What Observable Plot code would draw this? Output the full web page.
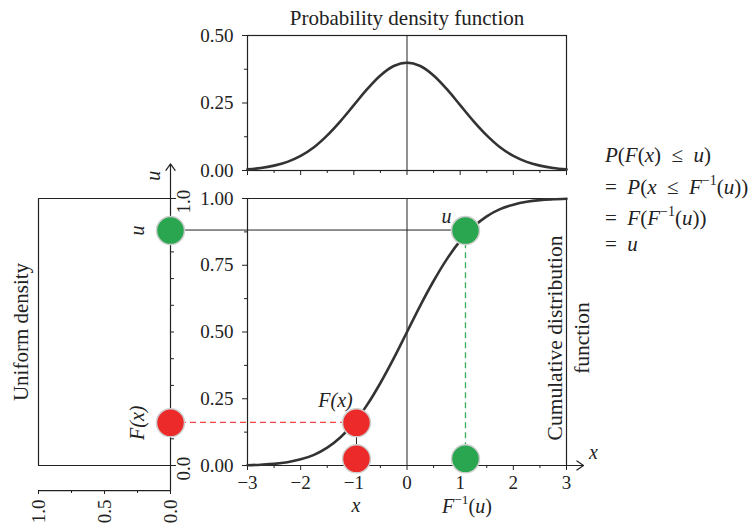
<!DOCTYPE html>
<html><head><meta charset="utf-8">
<script src="https://cdn.jsdelivr.net/npm/d3@7"></script>
<script src="https://cdn.jsdelivr.net/npm/@observablehq/plot@0.6"></script>
<style>
body{margin:0;background:#fff;}
#wrap{position:relative;width:750px;height:529px;overflow:hidden;background:#fff;}
#wrap > svg{position:absolute;left:0;top:0;}
</style></head><body><div id="wrap"></div>
<script>
// ---------- data ----------
const xs    = [-3,-2.75,-2.5,-2.25,-2,-1.75,-1.5,-1.25,-1,-0.75,-0.5,-0.25,0,0.25,0.5,0.75,1,1.25,1.5,1.75,2,2.25,2.5,2.75,3];
const pdfY  = [0.004,0.009,0.018,0.032,0.054,0.086,0.130,0.183,0.242,0.301,0.352,0.387,0.399,0.387,0.352,0.301,0.242,0.183,0.130,0.086,0.054,0.032,0.018,0.009,0.004];
const cdfY  = [0.001,0.003,0.006,0.012,0.023,0.040,0.067,0.106,0.159,0.227,0.309,0.401,0.500,0.599,0.691,0.773,0.841,0.894,0.933,0.960,0.977,0.988,0.994,0.997,0.999];
const uniformDensity = [0,1,1,0];
const uniformU       = [0,0,1,1];
const sampleX     = [-0.95, 1.1];
const sampleU     = [0.16, 0.88];
const sampleNames = ["F(x)", "u"];
const baseU = 0.025;
const xTicks      = [-3,-2,-1,0,1,2,3];
const xMinorTicks = [-2.5,-1.5,-0.5,0.5,1.5,2.5];
const pdfTicks    = [0,0.25,0.5];
const pdfMinor    = [0.125,0.375];
const cdfTicks    = [0,0.25,0.5,0.75,1];
const cdfMinor    = [0.125,0.375,0.625,0.875];
const uTicks      = [0,1];
const uMinor      = [0.1,0.2,0.3,0.4,0.5,0.6,0.7,0.8,0.9];
const densTicks   = [0,0.5,1];
const densMinor   = [0.25,0.75];
const xAxisEnd    = 3.32;
const uAxisEnds   = [-0.094, 1.13];
const titleText   = "Probability density function";
const cdfTitle    = "Cumulative distribution\nfunction";
const uniTitle    = "Uniform density";
const xAxisName   = [["x","i"]];
const invAxisName = [["F","i"],["−1","s"],["("],["u","i"],[")"]];
const mathLines = [
  [["P","i"],["("],["F","i"],["("],["x","i"],[")  ≤  "],["u","i"],[")"]],
  [["=  "],["P","i"],["("],["x","i"],["  ≤  "],["F","i"],["−1","s"],["("],["u","i"],["))"]],
  [["=  "],["F","i"],["("],["F","i"],["−1","s"],["("],["u","i"],["))"]],
  [["=  "],["u","i"]]
];

// ---------- styles ----------
const W = 750, H = 529;
const serif = "'Liberation Serif', 'Times New Roman', serif";
const ink = "#222";
const redFill = "#ec2a2a", greenFill = "#2ba650";
const redDash = "#f04848", greenDash = "#3aad5c";
const ring = "#cfcfcf";
const fmt2 = d3.format(".2f"), fmt1 = d3.format(".1f"), fmtInt = d3.format("d");
const blank = () => "";

const curveData = xs.map((x, i) => ({x, pdf: pdfY[i], cdf: cdfY[i]}));
const uniData = uniformDensity.map((d, i) => ({d, u: uniformU[i]}));
const samples = sampleX.map((x, i) => ({x, u: sampleU[i], name: sampleNames[i]}));
const red = samples[0], green = samples[1];

const base = {width: W, height: H,
  style: {background: "transparent", fontFamily: serif, fontSize: "19px", color: ink, overflow: "visible"}};

// ---------- top panel: PDF ----------
const topPlot = Plot.plot({...base,
  marginLeft: 247, marginRight: W - 566, marginTop: 35, marginBottom: H - 170,
  x: {domain: [-3, 3], range: [247, 566], label: null},
  y: {domain: [0, 0.5], range: [170, 35], label: null},
  marks: [
    Plot.axisY({ticks: pdfTicks, tickSize: 5, tickPadding: 9, tickFormat: fmt2, label: null}),
    Plot.axisY({ticks: pdfMinor, tickSize: 3, tickFormat: blank, label: null}),
    Plot.axisX({ticks: xTicks, tickSize: 5, tickFormat: blank, label: null}),
    Plot.axisX({ticks: xMinorTicks, tickSize: 3, tickFormat: blank, label: null}),
    Plot.frame({stroke: ink, strokeWidth: 1.2}),
    Plot.ruleX([0], {stroke: ink, strokeWidth: 1}),
    Plot.line(curveData, {x: "x", y: "pdf", curve: "catmull-rom", stroke: "#333", strokeWidth: 2.6}),
    Plot.text([titleText], {frameAnchor: "top", dy: -11, lineAnchor: "bottom", textAnchor: "middle", fontSize: 21, fill: ink})
  ]
});

// ---------- main panel: CDF ----------
const mainPlot = Plot.plot({...base,
  marginLeft: 247, marginRight: W - 566, marginTop: 198, marginBottom: H - 465,
  x: {domain: [-3, 3], range: [247, 566], label: null},
  y: {domain: [0, 1], range: [465, 198], label: null},
  marks: [
    Plot.axisY({ticks: cdfTicks, tickSize: 5, tickPadding: 9, tickFormat: fmt2, label: null}),
    Plot.axisY({ticks: cdfMinor, tickSize: 3, tickFormat: blank, label: null}),
    Plot.axisX({ticks: xTicks, tickSize: 5, tickPadding: 5, tickFormat: fmtInt, label: null}),
    Plot.axisX({ticks: xMinorTicks, tickSize: 3, tickFormat: blank, label: null}),
    Plot.ruleX([-3, 3], {stroke: ink, strokeWidth: 1.2}),
    Plot.ruleY([1], {stroke: ink, strokeWidth: 1.2}),
    Plot.arrow([{x1: -3, x2: xAxisEnd}], {x1: "x1", x2: "x2", y1: () => 0, y2: () => 0,
      stroke: ink, strokeWidth: 1.2, headLength: 10, headAngle: 70}),
    Plot.ruleX([0], {stroke: ink, strokeWidth: 1}),
    Plot.line(curveData, {x: "x", y: "cdf", curve: "catmull-rom", stroke: "#333", strokeWidth: 2.6}),
    Plot.ruleX([green], {x: "x", y1: () => baseU, y2: "u", stroke: greenDash, strokeWidth: 1.3, strokeDasharray: "6,4"}),
    Plot.ruleX([red], {x: "x", y1: () => baseU, y2: "u", stroke: ink, strokeWidth: 1}),
    Plot.dot([red], {x: "x", y: "u", r: 14, fill: redFill, stroke: ring, strokeWidth: 1.5}),
    Plot.dot([red], {x: "x", y: () => baseU, r: 14, fill: redFill, stroke: ring, strokeWidth: 1.5}),
    Plot.dot([green], {x: "x", y: "u", r: 14, fill: greenFill, stroke: ring, strokeWidth: 1.5}),
    Plot.dot([green], {x: "x", y: () => baseU, r: 14, fill: greenFill, stroke: ring, strokeWidth: 1.5}),
    Plot.text([green], {x: "x", y: "u", text: "name", dx: -19, dy: -14, fontSize: 20, fontStyle: "italic", fill: ink}),
    Plot.text([red], {x: "x", y: "u", text: "name", dx: -21, dy: -22, fontSize: 20, fontStyle: "italic", fill: ink}),
    Plot.text(["x"], {x: () => xAxisEnd, y: () => 0, dx: 10, dy: -13, fontSize: 20, fontStyle: "italic", fill: ink}),
    Plot.text([cdfTitle], {frameAnchor: "right", y: () => 0.5, dx: 0, dy: 6, rotate: -90, textAnchor: "middle", lineAnchor: "middle", lineHeight: 1.25, fontSize: 21.5, fill: ink})
  ]
});

// ---------- left panel: uniform density ----------
const leftPlot = Plot.plot({...base,
  marginLeft: 38, marginRight: W - 170, marginTop: 198, marginBottom: H - 490,
  x: {domain: [0, 1], range: [170, 38], label: null},
  y: {domain: [0, 1], range: [465, 198], label: null},
  marks: [
    Plot.axisX({ticks: densTicks, tickSize: 4, tickFormat: blank, label: null}),
    Plot.axisX({ticks: densMinor, tickSize: 3, tickFormat: blank, label: null}),
    Plot.text(densTicks, {x: d => d, frameAnchor: "bottom", text: fmt1, rotate: -90, textAnchor: "end", lineAnchor: "middle", dy: 9, fill: ink}),
    Plot.axisY({anchor: "right", ticks: uTicks, tickSize: 5, tickFormat: blank, label: null}),
    Plot.axisY({anchor: "right", ticks: uMinor, tickSize: 3, tickFormat: blank, label: null}),
    Plot.text(uTicks, {y: d => d, frameAnchor: "right", text: fmt1, rotate: -90, textAnchor: "middle", lineAnchor: "middle", dx: 13, dy: 3, fill: ink}),
    Plot.ruleY([uAxisEnds[0]], {x1: 0, x2: 1, stroke: ink, strokeWidth: 1.2}),
    Plot.arrow([{y1: uAxisEnds[0], y2: uAxisEnds[1]}], {x1: () => 0, x2: () => 0, y1: "y1", y2: "y2",
      stroke: ink, strokeWidth: 1.2, headLength: 10, headAngle: 70}),
    Plot.text(["u"], {x: () => 0, y: () => uAxisEnds[1], dx: -17, dy: 12, rotate: -90, fontSize: 20, fontStyle: "italic", fill: ink}),
    Plot.line(uniData, {x: "d", y: "u", stroke: ink, strokeWidth: 1.2}),
    Plot.dot([red], {x: () => 0, y: "u", r: 14, fill: redFill, stroke: ring, strokeWidth: 1.5}),
    Plot.dot([green], {x: () => 0, y: "u", r: 14, fill: greenFill, stroke: ring, strokeWidth: 1.5}),
    Plot.text(samples, {x: () => 0, y: "u", text: "name", dx: -33, rotate: -90, fontSize: 20, fontStyle: "italic", fill: ink}),
    Plot.text([uniTitle], {frameAnchor: "left", y: () => 0.5, dx: -17, rotate: -90, textAnchor: "middle", lineAnchor: "middle", fontSize: 21, fill: ink})
  ]
});

// ---------- overlay: connectors across panels + rich text ----------
const xl = leftPlot.scale("x"), xm = mainPlot.scale("x"), ym = mainPlot.scale("y");
const overlay = d3.create("svg").attr("width", W).attr("height", H).attr("viewBox", `0 0 ${W} ${H}`)
  .style("font-family", serif);
overlay.append("line")
  .attr("x1", xl.apply(0)).attr("x2", xm.apply(green.x))
  .attr("y1", ym.apply(green.u)).attr("y2", ym.apply(green.u))
  .attr("stroke", ink).attr("stroke-width", 1);
overlay.append("line")
  .attr("x1", xl.apply(0)).attr("x2", xm.apply(red.x))
  .attr("y1", ym.apply(red.u)).attr("y2", ym.apply(red.u))
  .attr("stroke", redDash).attr("stroke-width", 1.3).attr("stroke-dasharray", "6,4");

function richText(g, parts, x, y, anchor, size) {
  const t = g.append("text").attr("x", x).attr("y", y).attr("text-anchor", anchor)
    .attr("font-size", size).attr("fill", ink).style("white-space", "pre");
  let raised = false;
  parts.forEach(([s, k]) => {
    const sp = t.append("tspan").text(s);
    if (k === "i") sp.attr("font-style", "italic");
    if (k === "s") { sp.attr("font-size", size * 0.67).attr("dy", -size * 0.43); raised = true; }
    else if (raised) { sp.attr("dy", size * 0.43); raised = false; }
  });
  return t;
}
const textG = overlay.append("g");
const baselines = [162, 194, 225, 251];
mathLines.forEach((parts, li) => richText(textG, parts, 605, baselines[li], "start", 21));
const axisNameY = ym.apply(0) + 47;
richText(textG, xAxisName, xm.apply(red.x), axisNameY, "middle", 20);
richText(textG, invAxisName, xm.apply(green.x) + 2, axisNameY + 1, "middle", 20);

const wrap = document.getElementById("wrap");
wrap.append(overlay.node(), leftPlot, topPlot, mainPlot);
</script></body></html>
